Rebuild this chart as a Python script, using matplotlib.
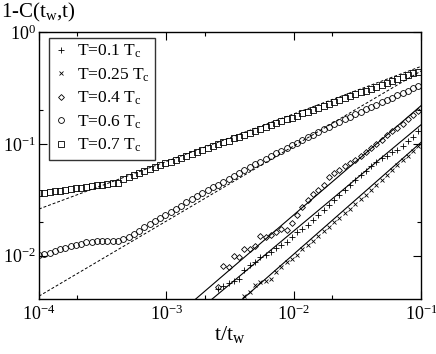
import numpy as np
import matplotlib
matplotlib.use("Agg")
import matplotlib.pyplot as plt
from matplotlib.ticker import LogLocator, NullFormatter

plt.rcParams['font.family'] = ['Liberation Serif', 'DejaVu Serif']
plt.rcParams['mathtext.fontset'] = 'custom'
plt.rcParams['mathtext.rm'] = 'Liberation Serif'
plt.rcParams['mathtext.it'] = 'Liberation Serif:italic'

# t/t_w sampling (ratio 1.1 between points)
t_ratio = [1.00e-4, 1.10e-4, 1.21e-4, 1.33e-4, 1.46e-4, 1.61e-4, 1.77e-4, 1.95e-4,
           2.14e-4, 2.36e-4, 2.59e-4, 2.85e-4, 3.14e-4, 3.45e-4, 3.80e-4, 4.18e-4,
           4.59e-4, 5.05e-4, 5.56e-4, 6.12e-4, 6.73e-4, 7.40e-4, 8.14e-4, 8.95e-4,
           9.85e-4, 1.08e-3, 1.19e-3, 1.31e-3, 1.44e-3, 1.59e-3, 1.74e-3, 1.92e-3,
           2.11e-3, 2.32e-3, 2.55e-3, 2.81e-3, 3.09e-3, 3.40e-3, 3.74e-3, 4.11e-3,
           4.53e-3, 4.98e-3, 5.48e-3, 6.02e-3, 6.63e-3, 7.29e-3, 8.02e-3, 8.82e-3,
           9.70e-3, 1.07e-2, 1.17e-2, 1.29e-2, 1.42e-2, 1.56e-2, 1.72e-2, 1.89e-2,
           2.08e-2, 2.29e-2, 2.51e-2, 2.77e-2, 3.04e-2, 3.35e-2, 3.68e-2, 4.05e-2,
           4.45e-2, 4.90e-2, 5.39e-2, 5.93e-2, 6.52e-2, 7.17e-2, 7.89e-2, 8.68e-2,
           9.55e-2]

# T = 0.7 Tc (squares), all points
c_07 = [0.0360, 0.0365, 0.0371, 0.0377, 0.0382, 0.0388, 0.0394, 0.0400,
        0.0406, 0.0412, 0.0418, 0.0425, 0.0431, 0.0438, 0.0444, 0.0451,
        0.0481, 0.0507, 0.0527, 0.0549, 0.0571, 0.0594, 0.0617, 0.0642,
        0.0668, 0.0695, 0.0723, 0.0752, 0.0782, 0.0814, 0.0846, 0.0880,
        0.0916, 0.0953, 0.0991, 0.103, 0.107, 0.112, 0.116, 0.121,
        0.126, 0.131, 0.136, 0.142, 0.147, 0.153, 0.159, 0.166,
        0.172, 0.179, 0.187, 0.194, 0.202, 0.210, 0.218, 0.227,
        0.236, 0.246, 0.256, 0.266, 0.277, 0.288, 0.299, 0.311,
        0.324, 0.337, 0.350, 0.364, 0.379, 0.394, 0.410, 0.426,
        0.443]

# T = 0.6 Tc (circles), all points
c_06 = [0.01012, 0.01035, 0.01067, 0.01102, 0.01138, 0.01175, 0.01213, 0.01250,
        0.01285, 0.01315, 0.01337, 0.01352, 0.01361, 0.01361, 0.01355, 0.01361,
        0.01406, 0.01466, 0.01567, 0.01675, 0.01789, 0.01910, 0.02039, 0.02176,
        0.02320, 0.02474, 0.02636, 0.02809, 0.02991, 0.03184, 0.03389, 0.03604,
        0.03834, 0.04074, 0.04329, 0.04599, 0.04883, 0.05184, 0.05498, 0.05831,
        0.06181, 0.06551, 0.06940, 0.07347, 0.07776, 0.08228, 0.08703, 0.09204,
        0.09727, 0.1028, 0.1085, 0.1146, 0.1209, 0.1275, 0.1345, 0.1418,
        0.1494, 0.1573, 0.1657, 0.1744, 0.1835, 0.1930, 0.2028, 0.2132,
        0.2239, 0.2351, 0.2468, 0.2588, 0.2716, 0.2848, 0.2985, 0.3127,
        0.3275]

# T = 0.4 Tc (diamonds), from t_ratio[34]
c_04 = [0.0053, 0.00808, 0.00792, 0.00992, 0.00972, 0.01145, 0.01145, 0.01218,
        0.01495, 0.01464, 0.01526, 0.01622, 0.01725, 0.01690, 0.01952, 0.02299,
        0.02709, 0.03127, 0.03536, 0.03838, 0.04253, 0.05010, 0.05437, 0.05784,
        0.06279, 0.06677, 0.07100, 0.07706, 0.08538, 0.09268, 0.1006, 0.1092,
        0.1210, 0.1313, 0.1397, 0.1516, 0.1680, 0.1823, 0.1979]

# T = 0.1 Tc (plus), from t_ratio[34]
c_01 = [0.005043, 0.005362, 0.005702, 0.005940, 0.006188, 0.007441, 0.008247, 0.008770,
        0.009716, 0.01012, 0.01076, 0.01169, 0.01243, 0.01322, 0.01464, 0.01622,
        0.01725, 0.01873, 0.02075, 0.02299, 0.02547, 0.02822, 0.03127, 0.03464,
        0.03838, 0.04253, 0.04711, 0.05220, 0.05667, 0.06279, 0.06817, 0.07396,
        0.07866, 0.08538, 0.08896, 0.09658, 0.1070, 0.1161, 0.1313]

# T = 0.25 Tc (cross), from t_ratio[39]
c_025 = [0.004367, 0.004741, 0.005472, 0.005817, 0.005940, 0.006188, 0.007145, 0.007917,
         0.008770, 0.009326, 0.01012, 0.01145, 0.01243, 0.01349, 0.01495, 0.01656,
         0.01798, 0.01992, 0.02162, 0.02395, 0.02600, 0.02881, 0.03192, 0.03464,
         0.03838, 0.04253, 0.04711, 0.05220, 0.05784, 0.06409, 0.07100, 0.07866,
         0.08716, 0.09658]

# power law fits A * x**b
dashed_fits = [(1.31, 0.425), (2.10, 0.671)]          # T=0.7, T=0.6
solid_fits = [(2.08, 0.977), (1.32, 0.950), (1.03, 1.0)]  # T=0.4, 0.1, 0.25

t = np.array(t_ratio)

fig = plt.figure(figsize=(4.36, 3.54), dpi=100)
ax = fig.add_axes([0.0894, 0.1554, 0.8762, 0.7542])

mk = dict(ls='none', color='black', mfc='none', mew=0.6)
ax.plot(t[34:], c_01, marker='+', ms=5, label='T=0.1 T$_{\\rm c}$', **mk)
ax.plot(t[39:], c_025, marker='x', ms=3.5, label='T=0.25 T$_{\\rm c}$', **mk)
ax.plot(t[34:], c_04, marker='D', ms=3, label='T=0.4 T$_{\\rm c}$', **mk)
ax.plot(t, c_06, marker='o', ms=4.2, label='T=0.6 T$_{\\rm c}$', **mk)
ax.plot(t, c_07, marker='s', ms=3.8, label='T=0.7 T$_{\\rm c}$', **mk)

xl = np.array([1e-4, 1e-1])
for A, b in dashed_fits:
    ax.plot(xl, A * xl**b, color='black', lw=0.7, ls=(0, (3, 2)))
for A, b in solid_fits:
    ax.plot(xl, A * xl**b, color='black', lw=0.8)

ax.set_xscale('log')
ax.set_yscale('log')
ax.set_xlim(1e-4, 1e-1)
ax.set_ylim(4.1e-3, 1.0)

for a in (ax.xaxis, ax.yaxis):
    a.set_major_locator(LogLocator(base=10, numticks=10))
    a.set_minor_locator(LogLocator(base=10, subs=(2.0,), numticks=10))
    a.set_minor_formatter(NullFormatter())
ax.tick_params(which='both', direction='in', top=True, right=True, width=0.8)
ax.tick_params(which='major', length=6, labelsize=13)
ax.tick_params(which='minor', length=3)
ax.tick_params(axis='x', which='major', pad=4)
ax.tick_params(axis='y', which='major', pad=2)
for s in ax.spines.values():
    s.set_linewidth(1.0)

ax.set_xlabel('t/t$_{\\rm w}$', fontsize=16, labelpad=0)
fig.text(0.003, 0.997, '1-C(t$_{\\rm w}$,t)', fontsize=15, ha='left', va='top')

leg = ax.legend(loc='upper left', bbox_to_anchor=(0.026, 0.978), fontsize=12.5,
                frameon=True, fancybox=False, edgecolor='black', borderpad=0.3,
                handlelength=0.8, handletextpad=0.5, labelspacing=0.35,
                borderaxespad=0.0, markerscale=1.0)
leg.get_frame().set_linewidth(1.0)

fig.savefig('out.png', dpi=100)
